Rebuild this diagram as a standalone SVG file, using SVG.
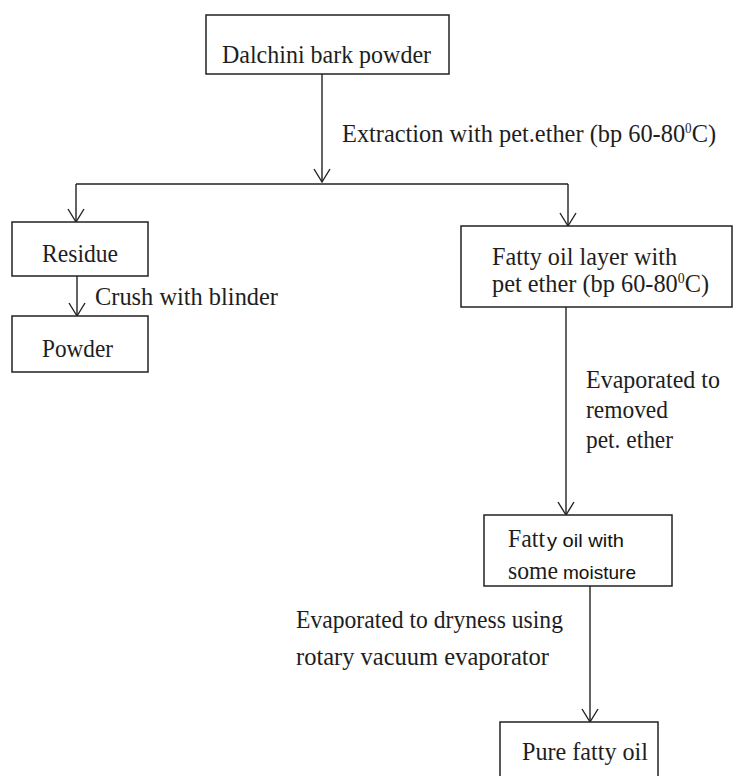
<svg xmlns="http://www.w3.org/2000/svg" width="733" height="776" viewBox="0 0 733 776">
<style>
.box{fill:#fff;stroke:#222;stroke-width:1.5}
.ln{fill:none;stroke:#222;stroke-width:1.4}
.t{font-family:"Liberation Serif","Times New Roman",serif;font-size:26px;fill:#1e1e1e}
.t2{font-size:24.5px}
.s{font-family:"Liberation Sans",Arial,sans-serif;font-size:18.5px;fill:#111}
.sup{font-size:14px}
</style>
<defs>
<marker id="ah" markerUnits="userSpaceOnUse" viewBox="-15 -10 17 20" markerWidth="17" markerHeight="20" refX="0" refY="0" orient="auto" overflow="visible">
<path d="M-13,-8 L0,0 L-13,8" fill="none" stroke="#222" stroke-width="1.4"/>
</marker>
</defs>
<rect width="733" height="776" fill="#fff"/>
<g id="connectors">
<line class="ln" x1="322" y1="74" x2="322" y2="182" marker-end="url(#ah)"/>
<line class="ln" x1="76" y1="184" x2="568" y2="184"/>
<line class="ln" x1="76" y1="184" x2="76" y2="222" marker-end="url(#ah)"/>
<line class="ln" x1="568" y1="184" x2="568" y2="226" marker-end="url(#ah)"/>
<line class="ln" x1="77" y1="276" x2="77" y2="316" marker-end="url(#ah)"/>
<line class="ln" x1="566" y1="307" x2="566" y2="515" marker-end="url(#ah)"/>
<line class="ln" x1="590" y1="586" x2="590" y2="722" marker-end="url(#ah)"/>
<text class="t" x="342" y="142" textLength="374" lengthAdjust="spacingAndGlyphs">Extraction with pet.ether (bp 60-80<tspan class="sup" baseline-shift="9">0</tspan>C)</text>
<text class="t" x="95" y="305" textLength="183" lengthAdjust="spacingAndGlyphs">Crush with blinder</text>
<text class="t" x="586" y="388" textLength="134" lengthAdjust="spacingAndGlyphs">Evaporated to</text>
<text class="t" x="586" y="418" textLength="82" lengthAdjust="spacingAndGlyphs">removed</text>
<text class="t" x="586" y="448" textLength="87" lengthAdjust="spacingAndGlyphs">pet. ether</text>
<text class="t" x="296" y="628" textLength="267" lengthAdjust="spacingAndGlyphs">Evaporated to dryness using</text>
<text class="t" x="296" y="665" textLength="253" lengthAdjust="spacingAndGlyphs">rotary vacuum evaporator</text>
</g>
<g id="n-dalchini">
<rect class="box" x="206" y="15" width="243" height="59"/>
<text class="t" x="222" y="63" textLength="209" lengthAdjust="spacingAndGlyphs">Dalchini bark powder</text>
</g>
<g id="n-residue">
<rect class="box" x="12" y="222" width="136" height="54"/>
<text class="t" x="42" y="262" textLength="76" lengthAdjust="spacingAndGlyphs">Residue</text>
</g>
<g id="n-powder">
<rect class="box" x="12" y="316" width="136" height="56"/>
<text class="t" x="42" y="357" textLength="71" lengthAdjust="spacingAndGlyphs">Powder</text>
</g>
<g id="n-fattylayer">
<rect class="box" x="461" y="226" width="271" height="81"/>
<text class="t t2" x="492" y="265" textLength="185" lengthAdjust="spacingAndGlyphs">Fatty oil layer with</text>
<text class="t t2" x="492" y="292" textLength="217" lengthAdjust="spacingAndGlyphs">pet ether (bp 60-80<tspan class="sup" baseline-shift="9">0</tspan>C)</text>
</g>
<g id="n-moisture">
<rect class="box" x="484" y="515" width="188" height="71"/>
<text class="t" x="508" y="547" textLength="37" lengthAdjust="spacingAndGlyphs">Fatt</text>
<text class="s" x="547" y="547" textLength="77" lengthAdjust="spacingAndGlyphs">y oil with</text>
<text class="t" x="508" y="579" textLength="50" lengthAdjust="spacingAndGlyphs">some</text>
<text class="s" x="563" y="579" textLength="73" lengthAdjust="spacingAndGlyphs">moisture</text>
</g>
<g id="n-pure">
<rect class="box" x="500" y="722" width="158" height="70"/>
<text class="t" x="522" y="760" textLength="126" lengthAdjust="spacingAndGlyphs">Pure fatty oil</text>
</g>
</svg>
